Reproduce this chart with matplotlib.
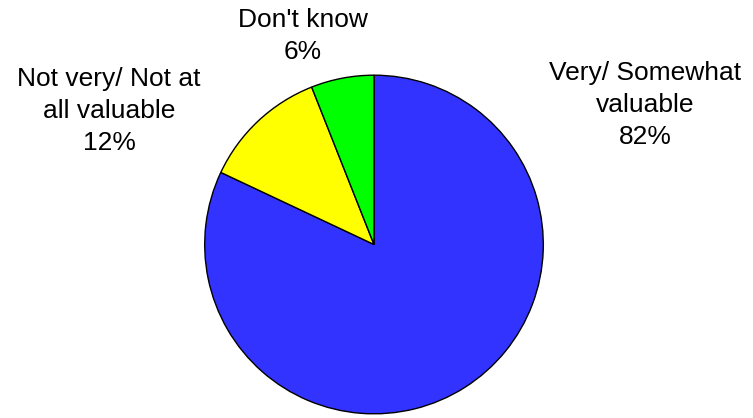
import matplotlib
matplotlib.use("Agg")
import matplotlib.pyplot as plt

plt.rcParams['font.family'] = ['Liberation Sans', 'DejaVu Sans']

labels = ["Very/ Somewhat\nvaluable", "Not very/ Not at\nall valuable", "Don't know"]
shares = [82, 12, 6]
colors = ["#3333FF", "#FFFF00", "#00FF00"]

W, H = 753, 418
fig = plt.figure(figsize=(W / 100, H / 100), dpi=100)

# pie centre ~ (374, 244.5) px from top-left, radius ~171 px
r = 171
cx, cy = 374, H - 244.5
ax = fig.add_axes([(cx - r) / W, (cy - r) / H, 2 * r / W, 2 * r / H])
ax.pie(shares, colors=colors, startangle=90, counterclock=False,
       wedgeprops=dict(edgecolor="black", linewidth=1.0), radius=1)
ax.set_xlim(-1.01, 1.01)
ax.set_ylim(-1.01, 1.01)
ax.set_aspect("equal")
ax.axis("off")

# label positions (px, centre of text block)
label_pos = [(645, 105), (109, 111), (303, 36)]
for lab, val, (x, y) in zip(labels, shares, label_pos):
    fig.text(x / W, 1 - y / H, f"{lab}\n{val}%", ha="center", va="center",
             fontsize=19, linespacing=1.4)

fig.savefig("out.png", dpi=100)
